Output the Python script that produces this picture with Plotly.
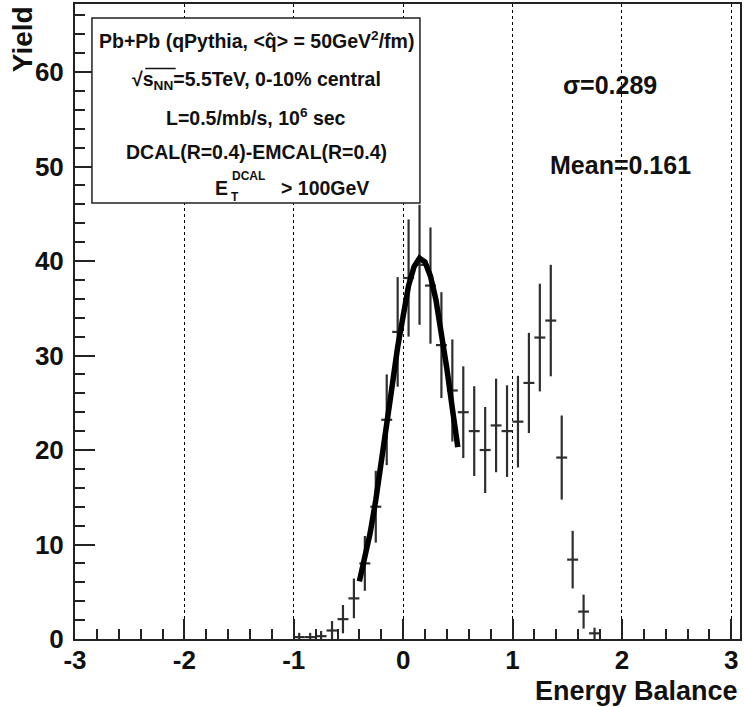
import plotly.graph_objects as go

# ---------------- data ----------------
bin_centers = [-0.95, -0.85, -0.75, -0.65, -0.55, -0.45, -0.35, -0.25, -0.15, -0.05,
               0.05, 0.15, 0.25, 0.35, 0.45, 0.55, 0.65, 0.75, 0.85, 0.95,
               1.05, 1.15, 1.25, 1.35, 1.45, 1.55, 1.65, 1.75]
yields = [0.2, 0.2, 0.3, 0.9, 2.1, 4.3, 8.0, 14.0, 23.2, 32.5,
          38.2, 39.6, 37.4, 31.1, 26.3, 24.0, 22.0, 20.0, 22.6, 22.0,
          23.0, 27.1, 31.9, 33.7, 19.2, 8.4, 2.9, 0.6]
yield_errors = [0.45, 0.45, 0.55, 1.0, 1.5, 2.1, 2.9, 3.8, 4.8, 5.8,
                6.2, 6.35, 6.15, 5.6, 5.4, 4.85, 4.75, 4.55, 4.95, 4.85,
                4.85, 5.3, 5.7, 5.9, 4.45, 3.05, 1.8, 0.6]
bin_half_width = 0.05

# Gaussian fit curve
fit_x = [-0.40, -0.35, -0.30, -0.25, -0.20, -0.15, -0.10, -0.05, 0.00, 0.05,
         0.10, 0.15, 0.20, 0.25, 0.30, 0.35, 0.40, 0.45, 0.50]
fit_y = [6.1, 8.4, 11.3, 14.7, 18.5, 22.6, 26.8, 30.9, 34.5, 37.4,
         39.4, 40.3, 39.9, 38.4, 35.9, 32.5, 28.6, 24.4, 20.3]

x_tick_vals = [-3, -2, -1, 0, 1, 2, 3]
x_tick_text = ["-3", "-2", "-1", "0", "1", "2", "3"]
y_tick_vals = [0, 10, 20, 30, 40, 50, 60]
y_tick_text = ["0", "10", "20", "30", "40", "50", "60"]

legend_lines = [
    "Pb+Pb (qPythia, &lt;q\u0302&gt; = 50GeV<sup>2</sup>/fm)",
    "\u221As<sub>NN</sub>=5.5TeV, 0-10% central",
    "L=0.5/mb/s, 10<sup>6</sup> sec",
    "DCAL(R=0.4)-EMCAL(R=0.4)",
]
sigma_text = "\u03c3=0.289"
mean_text = "Mean=0.161"
x_title = "Energy Balance"
y_title = "Yield"

# ---------------- figure ----------------
W, H = 744, 707
ML, MR, MT, MB = 75, 2, 4, 68
PW, PH = W - ML - MR, H - MT - MB


def px(xp):
    return (xp - ML) / PW


def py(yp):
    return (H - MB - yp) / PH


FONT = "Liberation Sans"
BAR = "#2e2e2e"

fig = go.Figure()
fig.add_trace(go.Scatter(
    x=bin_centers, y=yields, mode="markers",
    marker=dict(size=1, color="rgba(0,0,0,0)"),
    error_y=dict(type="data", array=yield_errors, thickness=2.2, width=0, color=BAR),
    error_x=dict(type="constant", value=bin_half_width, thickness=2.2, width=0, color=BAR),
    hoverinfo="skip", showlegend=False,
))
fig.add_trace(go.Scatter(
    x=fit_x, y=fit_y, mode="lines",
    line=dict(color="black", width=5.5), showlegend=False,
))

axis_common = dict(
    showline=True, linecolor="#222", linewidth=2, mirror=True,
    ticks="inside", ticklen=20, tickwidth=1.5, tickcolor="#222",
    tickfont=dict(family=FONT, size=26, color="#111", weight="bold"),
    zeroline=False,
)

fig.update_layout(
    width=W, height=H,
    margin=dict(l=ML, r=MR, t=MT, b=MB, pad=0),
    paper_bgcolor="white", plot_bgcolor="white",
    xaxis=dict(
        range=[-3.0, 3.08], tickmode="array", tickvals=x_tick_vals, ticktext=x_tick_text,
        showgrid=True, gridcolor="black", griddash="dot", gridwidth=1,
        ticklabelstandoff=-3,
        minor=dict(dtick=0.2, tick0=0, ticks="inside", ticklen=10, tickwidth=1.5,
                   tickcolor="#222", showgrid=False),
        **axis_common,
    ),
    yaxis=dict(
        range=[0, 67.2], tickmode="array", tickvals=y_tick_vals, ticktext=y_tick_text,
        showgrid=False, ticklabelstandoff=4,
        minor=dict(dtick=2, tick0=0, ticks="inside", ticklen=10, tickwidth=1.5,
                   tickcolor="#222", showgrid=False),
        **axis_common,
    ),
)

# legend box
fig.add_shape(type="rect", xref="paper", yref="paper",
              x0=px(92), x1=px(421), y0=py(203), y1=py(18),
              layer="above", fillcolor="white", line=dict(color="#222", width=1.5))

box_font = dict(family=FONT, size=19.5, color="#111", weight="bold")
line_y = [40, 80, 117, 152]
for txt, yy in zip(legend_lines, line_y):
    fig.add_annotation(xref="paper", yref="paper", x=px(257), y=py(yy),
                       text=txt, showarrow=False, xanchor="center", yanchor="middle",
                       font=box_font)
# overline of the square root
fig.add_shape(type="line", xref="paper", yref="paper",
              x0=px(145.5), x1=px(176), y0=py(68.5), y1=py(68.5),
              layer="above", line=dict(color="#111", width=1.5))
# last line: E_T^DCAL > 100GeV
fig.add_annotation(xref="paper", yref="paper", x=px(230), y=py(188), text="E",
                   showarrow=False, xanchor="right", yanchor="middle", font=box_font)
fig.add_annotation(xref="paper", yref="paper", x=px(230), y=py(176), text="DCAL",
                   showarrow=False, xanchor="left", yanchor="middle",
                   font=dict(family=FONT, size=12, color="#111", weight="bold"))
fig.add_annotation(xref="paper", yref="paper", x=px(229), y=py(197), text="T",
                   showarrow=False, xanchor="left", yanchor="middle",
                   font=dict(family=FONT, size=12, color="#111", weight="bold"))
fig.add_annotation(xref="paper", yref="paper", x=px(280), y=py(188), text="&gt; 100GeV",
                   showarrow=False, xanchor="left", yanchor="middle", font=box_font)

# sigma / mean
side_font = dict(family=FONT, size=25, color="#111", weight="bold")
fig.add_annotation(xref="paper", yref="paper", x=px(612), y=py(85), text=sigma_text,
                   showarrow=False, xanchor="center", yanchor="middle", font=side_font)
fig.add_annotation(xref="paper", yref="paper", x=px(622), y=py(165), text=mean_text,
                   showarrow=False, xanchor="center", yanchor="middle", font=side_font)

# axis titles
fig.add_annotation(xref="paper", yref="paper", x=1.0, y=py(691), text=x_title,
                   showarrow=False, xanchor="right", yanchor="middle",
                   font=dict(family=FONT, size=27, color="#111", weight="bold"))
fig.add_annotation(xref="paper", yref="paper", x=px(22), y=1.0, text=y_title,
                   textangle=-90, showarrow=False, xanchor="center", yanchor="top",
                   font=dict(family=FONT, size=28, color="#111", weight="bold"))

fig.write_html("out.html")
